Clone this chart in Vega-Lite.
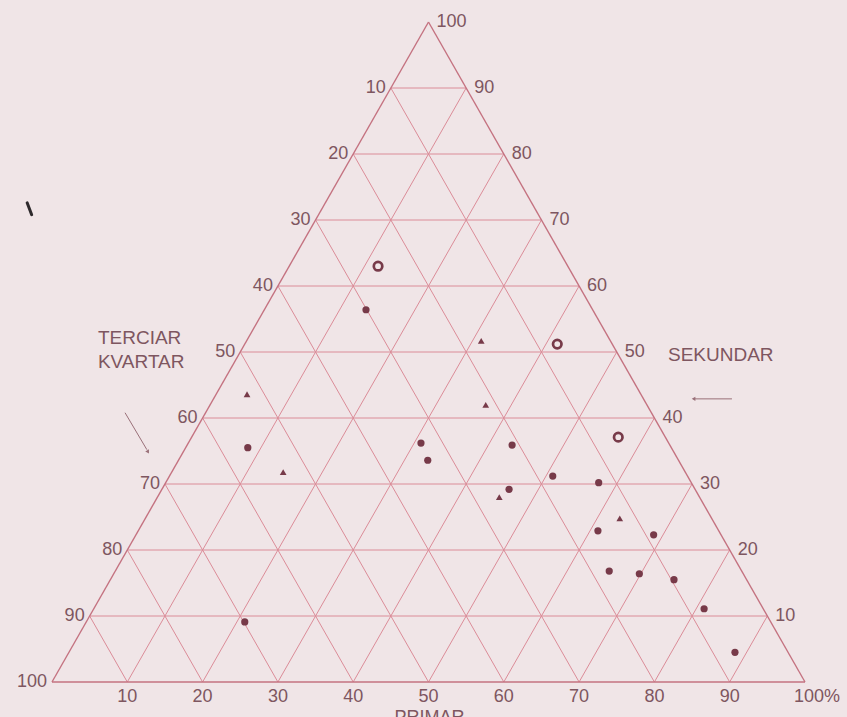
{
  "$schema": "https://vega.github.io/schema/vega-lite/v6.json",
  "width": 753,
  "height": 660,
  "autosize": {"type": "none"},
  "padding": {"left": 52, "top": 22, "right": 42, "bottom": 35},
  "background": "#f0e5e7",
  "view": {"stroke": null},
  "config": {"text": {"font": "Liberation Sans", "fontSize": 18, "color": "#7e5660"}},
  "datasets": {
    "grid": [
      {"kind": "grid", "x": 5, "y": 10, "x2": 95, "y2": 10},
      {"kind": "grid", "x": 10, "y": 20, "x2": 90, "y2": 20},
      {"kind": "grid", "x": 15, "y": 30, "x2": 85, "y2": 30},
      {"kind": "grid", "x": 20, "y": 40, "x2": 80, "y2": 40},
      {"kind": "grid", "x": 25, "y": 50, "x2": 75, "y2": 50},
      {"kind": "grid", "x": 30, "y": 60, "x2": 70, "y2": 60},
      {"kind": "grid", "x": 35, "y": 70, "x2": 65, "y2": 70},
      {"kind": "grid", "x": 40, "y": 80, "x2": 60, "y2": 80},
      {"kind": "grid", "x": 45, "y": 90, "x2": 55, "y2": 90},
      {"kind": "grid", "x": 10, "y": 0, "x2": 55, "y2": 90},
      {"kind": "grid", "x": 20, "y": 0, "x2": 60, "y2": 80},
      {"kind": "grid", "x": 30, "y": 0, "x2": 65, "y2": 70},
      {"kind": "grid", "x": 40, "y": 0, "x2": 70, "y2": 60},
      {"kind": "grid", "x": 50, "y": 0, "x2": 75, "y2": 50},
      {"kind": "grid", "x": 60, "y": 0, "x2": 80, "y2": 40},
      {"kind": "grid", "x": 70, "y": 0, "x2": 85, "y2": 30},
      {"kind": "grid", "x": 80, "y": 0, "x2": 90, "y2": 20},
      {"kind": "grid", "x": 90, "y": 0, "x2": 95, "y2": 10},
      {"kind": "grid", "x": 90, "y": 0, "x2": 45, "y2": 90},
      {"kind": "grid", "x": 80, "y": 0, "x2": 40, "y2": 80},
      {"kind": "grid", "x": 70, "y": 0, "x2": 35, "y2": 70},
      {"kind": "grid", "x": 60, "y": 0, "x2": 30, "y2": 60},
      {"kind": "grid", "x": 50, "y": 0, "x2": 25, "y2": 50},
      {"kind": "grid", "x": 40, "y": 0, "x2": 20, "y2": 40},
      {"kind": "grid", "x": 30, "y": 0, "x2": 15, "y2": 30},
      {"kind": "grid", "x": 20, "y": 0, "x2": 10, "y2": 20},
      {"kind": "grid", "x": 10, "y": 0, "x2": 5, "y2": 10},
      {"kind": "side", "x": 0, "y": 0, "x2": 100, "y2": 0},
      {"kind": "side", "x": 0, "y": 0, "x2": 50, "y2": 100},
      {"kind": "side", "x": 100, "y": 0, "x2": 50, "y2": 100},
      {"kind": "arrow", "x": 85.2, "y": 42.9, "x2": 90.3, "y2": 42.9},
      {"kind": "arrow", "x": 9.7, "y": 40.8, "x2": 12.6, "y2": 35.2},
      {"kind": "mark", "x": -3.3, "y": 72.6, "x2": -2.7, "y2": 70.8}
    ],
    "heads": [
      {"shape": "triangle-left", "x": 85.2, "y": 42.9, "angle": 0},
      {"shape": "triangle-up", "x": 12.75, "y": 34.85, "angle": 150}
    ],
    "points": [
      {"type": "dot", "x": 41.7, "y": 56.4},
      {"type": "dot", "x": 26.0, "y": 35.5},
      {"type": "dot", "x": 49.0, "y": 36.2},
      {"type": "dot", "x": 49.9, "y": 33.6},
      {"type": "dot", "x": 61.1, "y": 35.9},
      {"type": "dot", "x": 66.5, "y": 31.2},
      {"type": "dot", "x": 72.6, "y": 30.2},
      {"type": "dot", "x": 60.7, "y": 29.2},
      {"type": "dot", "x": 72.5, "y": 22.9},
      {"type": "dot", "x": 79.9, "y": 22.3},
      {"type": "dot", "x": 74.0, "y": 16.8},
      {"type": "dot", "x": 78.0, "y": 16.4},
      {"type": "dot", "x": 82.6, "y": 15.5},
      {"type": "dot", "x": 86.6, "y": 11.1},
      {"type": "dot", "x": 90.7, "y": 4.5},
      {"type": "dot", "x": 25.6, "y": 9.1},
      {"type": "triangle", "x": 57.0, "y": 51.7},
      {"type": "triangle", "x": 57.6, "y": 42.0},
      {"type": "triangle", "x": 25.9, "y": 43.6},
      {"type": "triangle", "x": 30.7, "y": 31.8},
      {"type": "triangle", "x": 59.4, "y": 28.0},
      {"type": "triangle", "x": 75.4, "y": 24.8},
      {"type": "open", "x": 43.3, "y": 63.0},
      {"type": "open", "x": 67.1, "y": 51.2},
      {"type": "open", "x": 75.2, "y": 37.1}
    ],
    "labels": [
      {"side": "bottom", "text": "10", "x": 10, "y": 0},
      {"side": "bottom", "text": "20", "x": 20, "y": 0},
      {"side": "bottom", "text": "30", "x": 30, "y": 0},
      {"side": "bottom", "text": "40", "x": 40, "y": 0},
      {"side": "bottom", "text": "50", "x": 50, "y": 0},
      {"side": "bottom", "text": "60", "x": 60, "y": 0},
      {"side": "bottom", "text": "70", "x": 70, "y": 0},
      {"side": "bottom", "text": "80", "x": 80, "y": 0},
      {"side": "bottom", "text": "90", "x": 90, "y": 0},
      {"side": "corner", "text": "100%", "x": 100, "y": 0},
      {"side": "left", "text": "10", "x": 45, "y": 90},
      {"side": "left", "text": "20", "x": 40, "y": 80},
      {"side": "left", "text": "30", "x": 35, "y": 70},
      {"side": "left", "text": "40", "x": 30, "y": 60},
      {"side": "left", "text": "50", "x": 25, "y": 50},
      {"side": "left", "text": "60", "x": 20, "y": 40},
      {"side": "left", "text": "70", "x": 15, "y": 30},
      {"side": "left", "text": "80", "x": 10, "y": 20},
      {"side": "left", "text": "90", "x": 5, "y": 10},
      {"side": "left", "text": "100", "x": 0, "y": 0},
      {"side": "right", "text": "100", "x": 50, "y": 100},
      {"side": "right", "text": "90", "x": 55, "y": 90},
      {"side": "right", "text": "80", "x": 60, "y": 80},
      {"side": "right", "text": "70", "x": 65, "y": 70},
      {"side": "right", "text": "60", "x": 70, "y": 60},
      {"side": "right", "text": "50", "x": 75, "y": 50},
      {"side": "right", "text": "40", "x": 80, "y": 40},
      {"side": "right", "text": "30", "x": 85, "y": 30},
      {"side": "right", "text": "20", "x": 90, "y": 20},
      {"side": "right", "text": "10", "x": 95, "y": 10}
    ],
    "titles": [
      {"text": "TERCIAR", "x": 6.1, "y": 52.1},
      {"text": "KVARTAR", "x": 6.1, "y": 48.5},
      {"text": "SEKUNDAR", "x": 81.8, "y": 49.6}
    ],
    "bottomTitle": [
      {"text": "PRIMAR", "x": 45.5, "y": -4.1}
    ]
  },
  "encoding": {
    "x": {"field": "x", "type": "quantitative", "scale": {"domain": [0, 100], "nice": false, "zero": false}, "axis": null},
    "y": {"field": "y", "type": "quantitative", "scale": {"domain": [0, 100], "nice": false, "zero": false}, "axis": null}
  },
  "layer": [
    {
      "data": {"name": "grid"},
      "transform": [{"filter": "datum.kind == 'grid'"}],
      "mark": {"type": "rule", "color": "#db8c98", "strokeWidth": 1},
      "encoding": {"x2": {"field": "x2"}, "y2": {"field": "y2"}}
    },
    {
      "data": {"name": "grid"},
      "transform": [{"filter": "datum.kind == 'side'"}],
      "mark": {"type": "rule", "color": "#c47280", "strokeWidth": 1.4},
      "encoding": {"x2": {"field": "x2"}, "y2": {"field": "y2"}}
    },
    {
      "data": {"name": "grid"},
      "transform": [{"filter": "datum.kind == 'arrow'"}],
      "mark": {"type": "rule", "color": "#9a7079", "strokeWidth": 1},
      "encoding": {"x2": {"field": "x2"}, "y2": {"field": "y2"}}
    },
    {
      "data": {"name": "grid"},
      "transform": [{"filter": "datum.kind == 'mark'"}],
      "mark": {"type": "rule", "color": "#2e2a2c", "strokeWidth": 3, "strokeCap": "round"},
      "encoding": {"x2": {"field": "x2"}, "y2": {"field": "y2"}}
    },
    {
      "data": {"name": "heads"},
      "mark": {"type": "point", "filled": true, "color": "#9a7079", "size": 18, "opacity": 1},
      "encoding": {
        "shape": {"field": "shape", "type": "nominal", "scale": null, "legend": null},
        "angle": {"field": "angle", "type": "quantitative", "scale": null}
      }
    },
    {
      "data": {"name": "points"},
      "transform": [{"filter": "datum.type == 'dot'"}],
      "mark": {"type": "point", "shape": "circle", "filled": true, "color": "#773a49", "size": 52, "opacity": 1}
    },
    {
      "data": {"name": "points"},
      "transform": [{"filter": "datum.type == 'triangle'"}],
      "mark": {"type": "point", "shape": "triangle-up", "filled": true, "color": "#773a49", "size": 45, "opacity": 1}
    },
    {
      "data": {"name": "points"},
      "transform": [{"filter": "datum.type == 'open'"}],
      "mark": {"type": "point", "shape": "circle", "filled": false, "color": "#773a49", "size": 72, "strokeWidth": 2.7, "opacity": 1}
    },
    {
      "data": {"name": "labels"},
      "transform": [{"filter": "datum.side == 'bottom'"}],
      "mark": {"type": "text", "align": "center", "baseline": "middle", "dy": 15},
      "encoding": {"text": {"field": "text"}}
    },
    {
      "data": {"name": "labels"},
      "transform": [{"filter": "datum.side == 'corner'"}],
      "mark": {"type": "text", "align": "center", "baseline": "middle", "dy": 15, "dx": 12},
      "encoding": {"text": {"field": "text"}}
    },
    {
      "data": {"name": "labels"},
      "transform": [{"filter": "datum.side == 'left'"}],
      "mark": {"type": "text", "align": "right", "baseline": "middle", "dx": -5},
      "encoding": {"text": {"field": "text"}}
    },
    {
      "data": {"name": "labels"},
      "transform": [{"filter": "datum.side == 'right'"}],
      "mark": {"type": "text", "align": "left", "baseline": "middle", "dx": 8},
      "encoding": {"text": {"field": "text"}}
    },
    {
      "data": {"name": "titles"},
      "mark": {"type": "text", "align": "left", "baseline": "middle", "fontSize": 19},
      "encoding": {"text": {"field": "text"}}
    },
    {
      "data": {"name": "bottomTitle"},
      "mark": {"type": "text", "align": "left", "baseline": "top", "fontSize": 18},
      "encoding": {"text": {"field": "text"}}
    }
  ]
}
